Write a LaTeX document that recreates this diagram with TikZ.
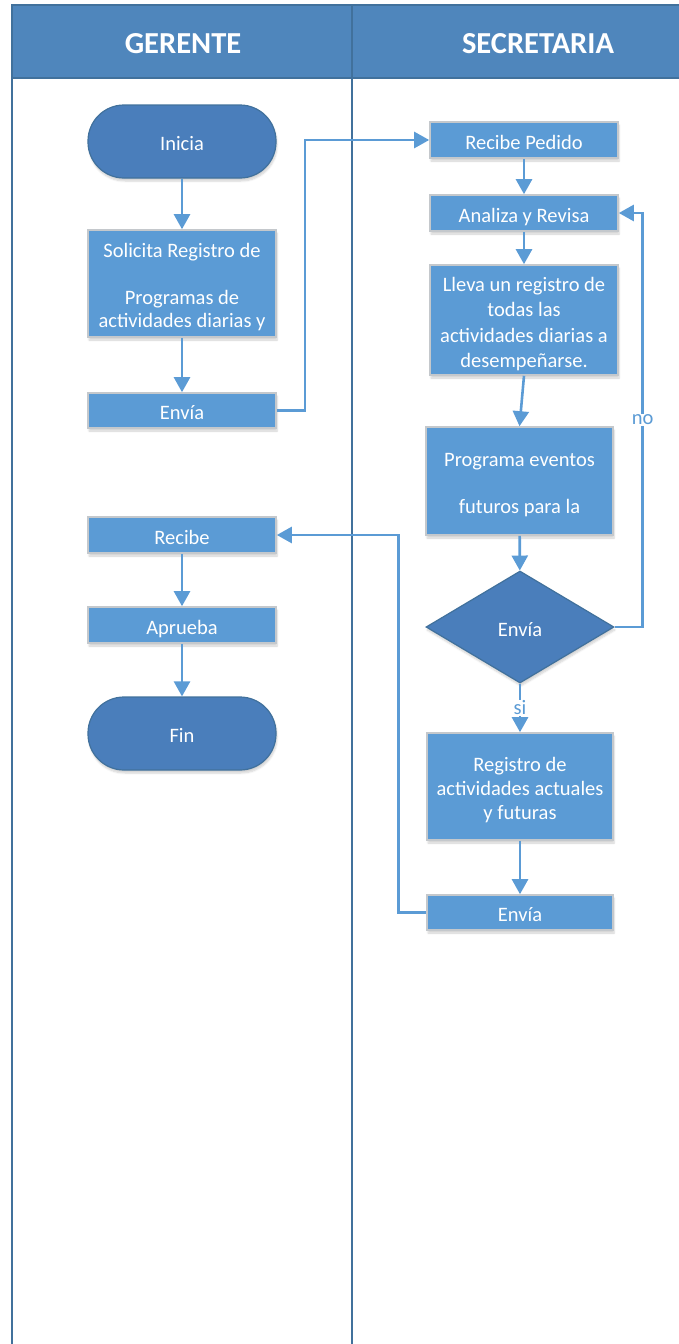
\documentclass[tikz,border=0pt]{standalone}
\usepackage{fontspec}
\setmainfont{Carlito}
\usetikzlibrary{arrows.meta,shapes.geometric,shadows.blur}

\definecolor{boxblue}{HTML}{5B9BD5}
\definecolor{darkblue}{HTML}{4A7EBB}
\definecolor{edgeblue}{HTML}{41719C}
\definecolor{headblue}{HTML}{4F86BC}
\definecolor{boxedge}{HTML}{C4C8CC}

% centred lines, set a little lower than the shape centre
\newcommand{\lines}[1]{\raisebox{-4.5pt}[\height][\depth]{\begin{tabular}{@{}c@{}}#1\end{tabular}}}

\tikzset{
  soft/.style={blur shadow={shadow xshift=1pt,shadow yshift=-3pt,shadow opacity=18,shadow blur steps=6}},
  stepbox/.style={draw=boxedge,line width=1.6pt,fill=boxblue,text=white,
    font=\fontsize{20.5}{23.5}\selectfont,align=center,inner sep=0pt,
    minimum width=188pt,soft},
  terminal/.style={draw=edgeblue,line width=1.2pt,fill=darkblue,text=white,
    font=\fontsize{20.5}{23.5}\selectfont,rectangle,rounded corners=36pt,
    minimum width=188pt,minimum height=73pt,soft},
  decision/.style={draw=edgeblue,line width=1.2pt,fill=darkblue,text=white,
    font=\fontsize{20.5}{23.5}\selectfont,diamond,inner sep=0pt,
    minimum width=188pt,minimum height=112pt,soft},
  flow/.style={draw=boxblue,line width=2.6pt,-{Triangle[width=16pt,length=15pt]}},
  lane/.style={draw=edgeblue,line width=2.6pt},
  lbl/.style={fill=white,text=boxblue,inner sep=1pt,font=\fontsize{20.5}{23.5}\selectfont},
  title/.style={text=white,font=\fontsize{30.5}{34}\selectfont\bfseries}
}

\begin{document}
\begin{tikzpicture}[x=1pt,y=-1pt]
\useasboundingbox (0,0) rectangle (678,1344);

% swimlane header and borders
\fill[headblue] (12,5) rectangle (690,78);
\draw[edgeblue,line width=1.6pt] (690,5) -- (12,5) -- (12,78) -- (690,78);
\draw[lane] (12,5) -- (12,1350);
\draw[lane] (352,5) -- (352,1350);
\node[title] (hgerente) at (183,44) {GERENTE};
\node[title] (hsecretaria) at (538,44) {SECRETARIA};

% Gerente lane
\node[terminal] (inicia) at (182,141.5) {\lines{Inicia}};
\node[stepbox,minimum height=107pt] (solicita) at (182,283.5)
  {\lines{Solicita Registro de\\[23.5pt]Programas de\\actividades diarias y}};
\node[stepbox,minimum height=35pt] (envia1) at (182,410.5) {\lines{Envía}};
\node[stepbox,minimum height=36pt] (recibe) at (182,535) {\lines{Recibe}};
\node[stepbox,minimum height=36pt] (aprueba) at (182,625) {\lines{Aprueba}};
\node[terminal] (fin) at (182,733.5) {\lines{Fin}};

% Secretaria lane
\node[stepbox,minimum height=36pt] (recped) at (524,140) {\lines{Recibe Pedido}};
\node[stepbox,minimum height=36pt] (analiza) at (524,213) {\lines{Analiza y Revisa}};
\node[stepbox,minimum height=110pt,
      font=\fontsize{20.5}{25.3}\selectfont] (lleva) at (524,320)
  {\lines{Lleva un registro de\\todas las\\actividades diarias a\\desempeñarse.}};
\node[stepbox,minimum height=108pt,minimum width=187pt] (programa) at (519.5,481)
  {\lines{Programa eventos\\[23.5pt]futuros para la}};
\node[decision] (decide) at (520,627) {\lines{Envía}};
\node[stepbox,minimum height=107pt,minimum width=186pt,
      font=\fontsize{20.5}{24}\selectfont] (registro) at (520,786.5)
  {\lines{Registro de\\actividades actuales\\y futuras}};
\node[stepbox,minimum height=35pt,minimum width=186pt] (envia2) at (520,912.5) {\lines{Envía}};

% connectors
\draw[flow] (inicia) -- (solicita);
\draw[flow] (solicita) -- (envia1);
\draw[flow] (envia1.east) -- ++(28,0) |- (recped.west);
\draw[flow] (recped) -- (analiza);
\draw[flow] (analiza) -- (lleva);
\draw[flow] (lleva.south) -- (programa.north);
\draw[flow] (programa) -- (decide);
\draw[flow] (decide.east) -- ++(28,0) |- (analiza.east)
  node[lbl,pos=0.25] (no) {no};
\draw[flow] (decide.south) -- (registro.north)
  node[lbl,pos=0.5] (si) {si};
\draw[flow] (registro) -- (envia2);
\draw[flow] (envia2.west) -- ++(-28,0) |- (recibe.east);
\draw[flow] (recibe) -- (aprueba);
\draw[flow] (aprueba) -- (fin);
\end{tikzpicture}
\end{document}
